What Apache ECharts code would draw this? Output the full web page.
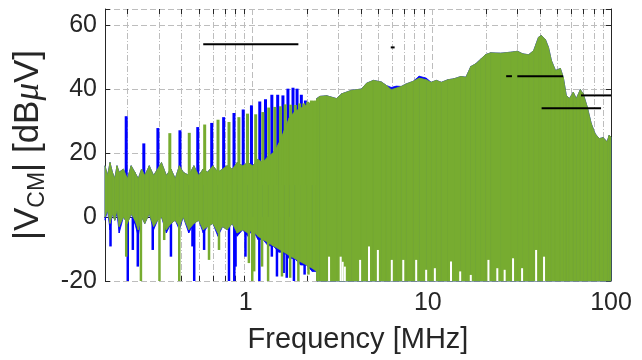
<!DOCTYPE html>
<html><head><meta charset="utf-8">
<script src="https://cdn.jsdelivr.net/npm/echarts@6/dist/echarts.min.js"></script>
<style>html,body{margin:0;padding:0;background:#fff}#c{width:642px;height:360px}</style>
</head><body><div id="c"></div>
<script>
// ---------------- data ----------------
const bandFreq = [0.15,0.155,0.16,0.165,0.17,0.175,0.18,0.19,0.2,0.21,0.22,0.23,0.24,0.25,0.265,0.28,0.295,0.31,0.33,0.35,0.37,0.39,0.41,0.44,0.47,0.5,0.53,0.56,0.6,0.64,0.68,0.72,0.77,0.82,0.88,0.94,1.0,1.07,1.14,1.22,1.3,1.4,1.5,1.6,1.72,1.85,2.0,2.15,2.27,
  2.28,2.37,2.59,2.94,3.14,3.57,4.05,4.32,4.72,5.23,5.58,5.94,6.34,6.75,7.2,7.87,8.5,9.3,9.91,10.6,11.3,12.3,13.3,14.5,15.5,16.5,17.6,18.8,20.0,21.3,24.2,27.5,30.1,32.1,34.7,37.0,39.4,40.9,43.1,44.8,46.5,49.0,52.2,54.2,56.3,58.6,61.6,64.0,67.4,70.0,73.7,77.6,81.6,85.9,90.4,95.1,97.6,100];
const greenHi = [16,13,17,14,12,16,14,15,12,16,14,12,15,13,16,13,15,17,13,15,12,16,14,13,16,13,15,14,16,14,15,16,15,17,16,17,16,18,17,19,20,23,27,31,33,34,35,36,36,
  37,37.7,37.9,37,38.5,39.6,40,41.8,42.7,42.2,41.1,39.8,40.3,40.8,41.6,42.4,43.4,42.9,42.1,42.7,42.1,42.9,43.2,43.9,43.7,47,47.9,49.4,50.8,51.3,51.2,51.5,51.8,51,50.7,52,56.2,56.7,55.4,53,48.9,45.8,46.4,43.6,38,37,39,37,39.8,38.5,34.4,29.2,26,24.5,24.8,23.5,25.5,25];
const greenLo = [0,2,-2,1,-1,2,-3,0,-2,1,-1,-4,0,-2,1,-3,-1,0,-4,-2,-1,-3,0,-4,-2,-1,-4,-3,-2,-5,-3,-4,-2,-5,-4,-5,-4,-6,-7,-8,-9,-10,-11,-12,-13,-14,-15,-16,-17,
  -20,-20,-20,-20,-20,-20,-20,-20,-20,-20,-20,-20,-20,-20,-20,-20,-20,-20,-20,-20,-20,-20,-20,-20,-20,-20,-20,-20,-20,-20,-20,-20,-20,-20,-20,-20,-20,-20,-20,-20,-20,-20,-20,-20,-20,-20,-20,-20,-20,-20,-20,-20,-20,-20,-20,-20,-20,-20];
const blueHi = [16,13,17,14,12,16,14,15,12,16,14,12,15,13,16,13,15,17,13,15,12,16,14,13,16,13,15,14,16,14,15,16,15,17,16,17,16,18,17,19,20,23,27,31,33,34,35,36,36,
  37,37.7,37.9,37,38.5,39.6,40,41.8,42.7,42.2,41.1,40.5,40.9,40.8,41.6,42.4,44.0,43.4,42.1,42.7,42.1,42.9,43.2,43.9,43.7,47,47.9,49.4,50.8,51.3,51.2,51.5,51.8,51,50.7,52,56.2,56.7,55.4,53,48.9,45.8,46.4,43.6,38,37,39,37,39.8,38.5,34.4,29.2,26,24.5,24.8,23.5,25.5,25];
const blueLo = [-1,2,-4,1,-1,1,-5,0,-2,1,-2,-6,0,-2,1,-4,-1,0,-5,-2,-1,-4,0,-5,-2,-1,-5,-3,-2,-6,-3,-4,-2,-6,-4,-6,-4,-7,-7,-9,-9,-11,-11,-13,-13,-15,-15,-17,-17,
  -20,-20,-20,-20,-20,-20,-20,-20,-20,-20,-20,-20,-20,-20,-20,-20,-20,-20,-20,-20,-20,-20,-20,-20,-20,-20,-20,-20,-20,-20,-20,-20,-20,-20,-20,-20,-20,-20,-20,-20,-20,-20,-20,-20,-20,-20,-20,-20,-20,-20,-20,-20,-20,-20,-20,-20,-20,-20];

// harmonic peaks
const blueSpikeFreq = [0.197,0.247,0.296,0.393,0.494,0.591,0.689,0.787,0.886,0.985,1.096,1.18,1.28,1.38,1.476,1.574,1.68,1.77,1.87,1.97,2.07,2.17,2.26,2.35];
const blueSpikeTop  = [31.5,23,27.8,27.1,28.1,29.4,31.2,32.5,33.6,34.9,36.1,36.8,38.2,38.2,38,40.1,40.4,40.1,38.2,36.4,33.3,30,26.6,24];
const greenSpikeFreq = [0.345,0.443,0.54,0.641,0.738,0.838,0.936,1.04,1.14,1.23,1.33,1.43,1.52,1.63,1.73,1.83,1.93,2.03,2.13,2.22];
const greenSpikeTop  = [26.2,26.3,28.9,30.4,29.7,31.2,32.3,32.1,32.8,34.2,34.4,34.6,35.2,35.1,35,35.5,35.5,36,36.4,36.4];
const spikeBase = 10;
// downward dips
const blueDipFreq = [0.161,0.201,0.2145,0.2286,0.277,0.35,0.4616,0.472,0.536,0.738,0.79,0.803,0.912,1.09,1.28,1.367,1.49,1.55,1.7,1.95];
const blueDipBottom = [-9.2,-20,-10.3,-15.5,-10.3,-12.4,-9.2,-20,-10.3,-20,-20,-15.5,-12.4,-20,-12.4,-18.6,-17.5,-19,-20,-18];
const greenDipFreq = [0.197,0.238,0.302,0.321,0.3895,0.571,0.649,0.953,0.995,1.02,1.129,1.22,1.458,1.62,1.8,2.05];
const greenDipBottom = [-12.4,-20,-20,-7.2,-20,-13.4,-10.3,-14.4,-20,-17,-15.5,-20,-18.6,-19,-20,-18];
const dipBase = 0;
// empty gaps at the floor of the broadband part
const gapFreq = [2.67,3.1,3.18,3.27,3.98,4.46,5.0,5.98,6.93,8.18,9.3,10.4,12.8,14.4,16.5,20.7,23.2,25.5,28.4,31.9,38.2,42.3];
const gapTop  = [-12.4,-12.4,-14,-15.5,-13.4,-9.2,-10.3,-13.4,-13.4,-13.4,-16.5,-16,-13.9,-17,-18.1,-13.4,-16,-16.5,-12.9,-16,-10.3,-12.4];

// limit lines (start MHz, end MHz, level dBµV)
const limitStart = [0.53,5.9,26,30,41,68];
const limitEnd   = [1.8,6.2,28,54,88,100];
const limitLevel = [54,53,44,44,34,38];

// axes
const xMin = 0.15, xMax = 100;
const yMin = -20, yMax = 65, yStep = 20;
const xTickValues = [1,10,100];
const xTickLabels = ['1','10','100'];
const yTickValues = [-20,0,20,40,60];
const yTickLabels = ['-20','0','20','40','60'];
const minorFreq = [0.2,0.3,0.4,0.5,0.6,0.7,0.8,0.9,2,3,4,5,6,7,8,9,20,30,40,50,60,70,80,90];

// ---------------- chart ----------------
const FONT = 'Liberation Sans, Arial, Helvetica, sans-serif';
const AX = '#262626';
const GRID = '#bdbdbd';
const BLUE = '#0000ff', GREEN = '#77ac30';

function spikeSeries(F, base, T, color, w, z) {
  return {
    type: 'custom', z: z, silent: true, animation: false,
    data: F.map((f, i) => [f, base, T[i]]),
    encode: {x: 0, y: [1, 2]},
    renderItem: function (params, api) {
      const a = api.coord([api.value(0), api.value(1)]);
      const b = api.coord([api.value(0), api.value(2)]);
      return {type: 'rect', shape: {x: a[0] - w / 2, y: Math.min(a[1], b[1]), width: w, height: Math.abs(a[1] - b[1])}, style: {fill: color}};
    }
  };
}
function bandSeries(F, hi, lo, color, z) {
  const data = [];
  for (let i = 0; i < F.length - 1; i++) data.push([F[i], lo[i], hi[i], F[i + 1], lo[i + 1], hi[i + 1]]);
  return {
    type: 'custom', z: z, silent: true, animation: false,
    data: data,
    encode: {x: [0, 3], y: [1, 2, 4, 5]},
    renderItem: function (params, api) {
      const p1 = api.coord([api.value(0), api.value(2)]);
      const p2 = api.coord([api.value(3), api.value(5)]);
      const p3 = api.coord([api.value(3), api.value(4)]);
      const p4 = api.coord([api.value(0), api.value(1)]);
      return {type: 'polygon', shape: {points: [p1, p2, p3, p4]}, style: {fill: color, stroke: color, lineWidth: 0.8}};
    }
  };
}
const xLabelStyle = ['t1', 't10', 't100'];
function fmtX(v) {
  for (let i = 0; i < xTickValues.length; i++) if (Math.abs(v - xTickValues[i]) < 1e-6 * xTickValues[i]) return '{' + xLabelStyle[i] + '|' + xTickLabels[i] + '}';
  return '';
}
function fmtY(v) {
  const i = yTickValues.indexOf(Math.round(v));
  return (i >= 0 && Math.abs(v - yTickValues[i]) < 1e-9) ? yTickLabels[i] : '';
}

const chart = echarts.init(document.getElementById('c'), null, {renderer: 'canvas', width: 642, height: 360});
const tickText = {color: AX, fontSize: 25, fontFamily: FONT};
const option = {
  animation: false,
  backgroundColor: '#ffffff',
  grid: {left: 102, right: 31, top: 9, bottom: 79, containLabel: false},
  xAxis: [{
    type: 'log', logBase: 10, min: xMin, max: xMax, position: 'bottom',
    axisLine: {show: true, lineStyle: {color: AX, width: 1}},
    axisTick: {show: true, inside: true, length: 5, lineStyle: {color: AX}},
    axisLabel: {formatter: fmtX, color: AX, fontSize: 25, fontFamily: FONT, margin: 10, showMaxLabel: true, showMinLabel: true, hideOverlap: false,
      rich: {t1: Object.assign({padding: [0, 14, 0, 0]}, tickText), t10: Object.assign({padding: [0, 8, 0, 0]}, tickText), t100: Object.assign({}, tickText)}},
    splitLine: {show: true, lineStyle: {color: GRID, width: 1, type: [6, 3]}},
    name: 'Frequency [MHz]', nameLocation: 'middle', nameGap: 44,
    nameTextStyle: {fontSize: 29, color: AX, fontFamily: FONT}
  }, {
    type: 'log', logBase: 10, min: xMin, max: xMax, position: 'top',
    axisLine: {show: true, lineStyle: {color: AX, width: 1}},
    axisTick: {show: true, inside: true, length: 5, lineStyle: {color: AX}},
    axisLabel: {show: false}, splitLine: {show: false}
  }],
  yAxis: [{
    type: 'value', min: yMin, max: yMax, interval: yStep, position: 'left',
    axisLine: {show: true, lineStyle: {color: AX, width: 1}},
    axisTick: {show: true, inside: true, length: 5, lineStyle: {color: AX}},
    axisLabel: {formatter: fmtY, color: AX, fontSize: 25, fontFamily: FONT, margin: 8, showMaxLabel: true},
    splitLine: {show: true, lineStyle: {color: GRID, width: 1, type: [6, 3]}},
    name: '|V{sub|CM}| [dB{mu|\u03bc}V]', nameLocation: 'middle', nameGap: 56, nameRotate: 90,
    nameTextStyle: {fontSize: 35, color: AX, fontFamily: FONT, lineHeight: 41,
      rich: {sub: {fontSize: 23, lineHeight: 23, verticalAlign: 'bottom', color: AX, fontFamily: FONT},
             mu: {fontSize: 35, lineHeight: 41, fontStyle: 'italic', color: AX, fontFamily: 'Liberation Serif, DejaVu Serif, serif'}}}
  }, {
    type: 'value', min: yMin, max: yMax, interval: yStep, position: 'right',
    axisLine: {show: true, lineStyle: {color: AX, width: 1}},
    axisTick: {show: true, inside: true, length: 5, lineStyle: {color: AX}},
    axisLabel: {show: false}, splitLine: {show: false}
  }],
  series: [
    {
      type: 'custom', z: 1, silent: true, animation: false,
      data: minorFreq.map(f => [f, yMin]),
      encode: {x: 0, y: 1},
      renderItem: function (params, api) {
        const b = api.coord([api.value(0), yMin]);
        const t = api.coord([api.value(0), yMax]);
        const x = Math.round(b[0]) + 0.5;
        return {type: 'group', children: [
          {type: 'line', shape: {x1: x, y1: b[1], x2: x, y2: t[1]}, style: {stroke: GRID, lineWidth: 1, lineDash: [6, 2, 1, 2]}},
          {type: 'line', shape: {x1: x, y1: b[1], x2: x, y2: b[1] - 5}, style: {stroke: AX, lineWidth: 1}},
          {type: 'line', shape: {x1: x, y1: t[1], x2: x, y2: t[1] + 5}, style: {stroke: AX, lineWidth: 1}}
        ]};
      }
    },
    bandSeries(bandFreq, blueHi, blueLo, BLUE, 2),
    spikeSeries(blueSpikeFreq, spikeBase, blueSpikeTop, BLUE, 3, 3),
    spikeSeries(blueDipFreq, dipBase, blueDipBottom, BLUE, 2.5, 3),
    bandSeries(bandFreq, greenHi, greenLo, GREEN, 4),
    spikeSeries(greenSpikeFreq, spikeBase, greenSpikeTop, GREEN, 3, 5),
    spikeSeries(greenDipFreq, dipBase, greenDipBottom, GREEN, 2.5, 5),
    spikeSeries(gapFreq, yMin, gapTop, '#ffffff', 2, 6),
    {
      type: 'custom', z: 8, silent: true, animation: false,
      data: limitStart.map((s, i) => [s, limitLevel[i], limitEnd[i]]),
      encode: {x: [0, 2], y: 1},
      renderItem: function (params, api) {
        const a = api.coord([api.value(0), api.value(1)]);
        const b = api.coord([api.value(2), api.value(1)]);
        return {type: 'line', shape: {x1: a[0], y1: a[1], x2: b[0], y2: b[1]}, style: {stroke: '#000000', lineWidth: 2}};
      }
    }
  ]
};
chart.setOption(option);
</script></body></html>
